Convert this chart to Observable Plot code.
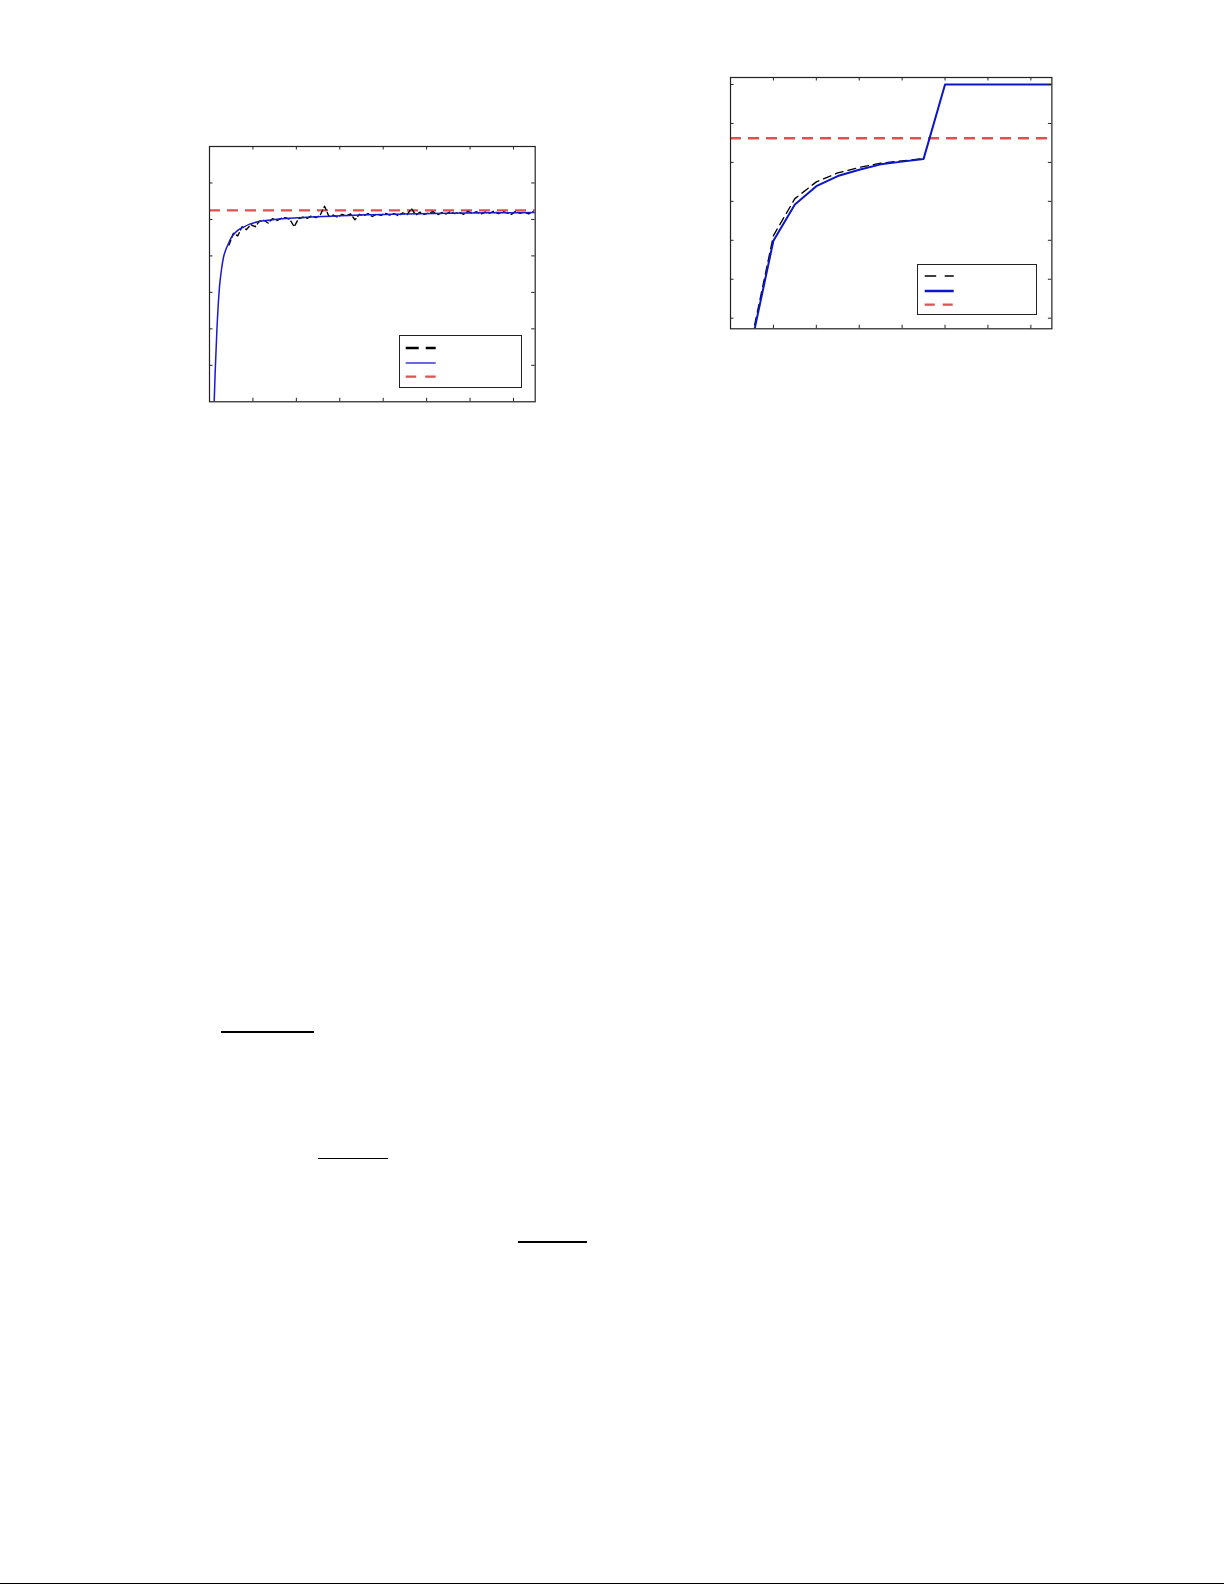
<!DOCTYPE html>
<html>
<head>
<meta charset="utf-8">
<script src="https://cdn.jsdelivr.net/npm/d3@7"></script>
<script src="https://cdn.jsdelivr.net/npm/@observablehq/plot@0.6"></script>
<style>
  html, body { margin: 0; padding: 0; background: #fff; }
  body { width: 1225px; height: 1585px; position: relative; overflow: hidden; font-family: "DejaVu Sans", sans-serif; }
  .abs { position: absolute; }
  .legend { position: absolute; border: 1px solid #222; background: #fff; box-sizing: border-box; }
  .rule { position: absolute; background: #000; }
</style>
</head>
<body>
<script>
// ---------- Left chart data ----------
const leftXTicks = [20, 40, 60, 80, 100, 120, 140];
const leftYTicks = [1, 2, 3, 4, 5, 6];
const leftBlueX = [2.0, 2.6, 3.4, 4.6, 5.5, 6.4, 7.5, 8.7, 9.8, 11, 13, 15.7, 18.5, 21.8, 26, 30, 37, 45, 60, 72, 90, 110, 130, 150];
const leftBlueY = [-0.3, 0.8, 1.96, 3.15, 3.62, 3.95, 4.17, 4.33, 4.48, 4.58, 4.7, 4.79, 4.87, 4.93, 4.97, 5.0, 5.03, 5.06, 5.1, 5.13, 5.15, 5.17, 5.18, 5.19];
const leftBlackX = [9, 11, 13, 15, 17, 19, 21, 23, 25, 27, 29, 31, 33, 35, 37, 39, 41, 43, 45, 47, 49, 51, 53, 55, 57, 59,
  61, 63, 65, 67, 69, 71, 73, 75, 77, 79, 81, 83, 85, 87, 89, 91, 93, 95, 97, 99, 101, 103, 105, 107, 109,
  111, 113, 115, 117, 119, 121, 123, 125, 127, 129, 131, 133, 135, 137, 139, 141, 143, 145, 147, 149];
const leftBlackY = [4.30, 4.62, 4.55, 4.80, 4.72, 4.86, 4.80, 4.95, 4.98, 4.90, 5.02, 4.97, 5.03, 5.05, 5.00, 4.80, 5.02, 5.06, 5.03, 5.10, 5.05, 5.12, 5.36, 5.08, 5.12, 5.06,
  5.14, 5.10, 5.15, 4.99, 5.14, 5.10, 5.16, 5.08, 5.15, 5.11, 5.17, 5.12, 5.16, 5.10, 5.18, 5.13, 5.30, 5.12, 5.20, 5.14, 5.18, 5.21, 5.13, 5.19, 5.15,
  5.21, 5.16, 5.20, 5.14, 5.22, 5.17, 5.21, 5.15, 5.20, 5.17, 5.23, 5.16, 5.21, 5.18, 5.14, 5.22, 5.17, 5.20, 5.15, 5.21];
const leftRefY = 5.25;

// ---------- Right chart data ----------
const rightXTicks = [2, 4, 6, 8, 10, 12, 14];
const rightYTicks = [0, 1, 2, 3, 4, 5, 6];
const rightBlueX = [1, 2, 3, 4, 5, 6, 7, 8, 9, 10, 11, 12, 13, 14, 15];
const rightBlueY = [-0.6, 1.99, 2.92, 3.39, 3.65, 3.81, 3.95, 4.02, 4.09, 6.0, 6.0, 6.0, 6.0, 6.0, 6.0];
const rightBlackX = [1, 2, 3, 4, 5, 6, 7, 8, 9];
const rightBlackY = [-0.5, 2.12, 3.07, 3.5, 3.73, 3.87, 3.98, 4.04, 4.1];
const rightRefY = 4.62;

// ---------- Styles ----------
const BLUE_L = "#1a1ad0";
const BLUE_R = "#0a16c8";
const RED = "#dc5252";
const M = 10; // svg margin around frame

function zip(xs, ys) { return xs.map((x, i) => ({x, y: ys[i]})); }

function chart({left, top, fw, fh, xDomain, yDomain, xTicks, yTicks, blue, black, refY, blueColor, blueW, blackW, blackDash, blueCurve}) {
  const tl = 3.5;
  const p = Plot.plot({
    width: fw + 2 * M,
    height: fh + 2 * M,
    marginLeft: M, marginRight: M, marginTop: M, marginBottom: M,
    x: {domain: xDomain, axis: null},
    y: {domain: yDomain, axis: null},
    style: {background: "transparent", overflow: "visible"},
    marks: [
      Plot.ruleY([refY], {stroke: RED, strokeWidth: 2.3, strokeDasharray: "11,7"}),
      Plot.line(black, {x: "x", y: "y", stroke: "#000", strokeWidth: blackW, strokeDasharray: blackDash, clip: true}),
      Plot.line(blue, {x: "x", y: "y", stroke: blueColor, strokeWidth: blueW, curve: blueCurve, clip: true}),
      // inward ticks (bottom, top, left, right)
      Plot.ruleX(xTicks, {stroke: "#222", strokeWidth: 1, insetTop: fh - tl}),
      Plot.ruleX(xTicks, {stroke: "#222", strokeWidth: 1, insetBottom: fh - tl}),
      Plot.ruleY(yTicks, {stroke: "#222", strokeWidth: 1, insetRight: fw - tl}),
      Plot.ruleY(yTicks, {stroke: "#222", strokeWidth: 1, insetLeft: fw - tl}),
      Plot.frame({stroke: "#222", strokeWidth: 1.2})
    ]
  });
  p.classList.add("abs");
  p.style.left = (left - M) + "px";
  p.style.top = (top - M) + "px";
  document.body.appendChild(p);
}

function legend({left, top, w, h, entries, segX0, segX1}) {
  const box = document.createElement("div");
  box.className = "legend";
  Object.assign(box.style, {left: left + "px", top: top + "px", width: w + "px", height: h + "px"});
  const svg = d3.create("svg").attr("width", w).attr("height", h)
    .style("position", "absolute").style("left", "-1px").style("top", "-1px");
  for (const e of entries) {
    svg.append("line")
      .attr("x1", segX0 - left).attr("x2", segX1 - left)
      .attr("y1", e.y - top).attr("y2", e.y - top)
      .attr("stroke", e.color).attr("stroke-width", e.w)
      .attr("stroke-dasharray", e.dash || null);
  }
  box.appendChild(svg.node());
  document.body.appendChild(box);
}

// Left chart: frame x 209.3–535, y 146–401.3
chart({
  left: 209.3, top: 146, fw: 325.7, fh: 255.3,
  xDomain: [0, 150], yDomain: [0, 7],
  xTicks: leftXTicks, yTicks: leftYTicks,
  blue: zip(leftBlueX, leftBlueY), black: zip(leftBlackX, leftBlackY),
  refY: leftRefY, blueColor: BLUE_L, blueW: 1.5, blackW: 1.4, blackDash: "5,3", blueCurve: "monotone-x"
});
legend({
  left: 399.3, top: 335.3, w: 122.4, h: 52.4, segX0: 406, segX1: 436,
  entries: [
    {y: 348.3, color: "#000", w: 2.5, dash: "13,7"},
    {y: 363.3, color: BLUE_L, w: 1.3},
    {y: 377, color: RED, w: 2.3, dash: "10.5,9"}
  ]
});

// Right chart: frame x 730.3–1051.7, y 77–328.3
chart({
  left: 730.3, top: 77, fw: 321.4, fh: 251.3,
  xDomain: [0, 14.98], yDomain: [-0.272, 6.18],
  xTicks: rightXTicks, yTicks: rightYTicks,
  blue: zip(rightBlueX, rightBlueY), black: zip(rightBlackX, rightBlackY),
  refY: rightRefY, blueColor: BLUE_R, blueW: 2, blackW: 1.3, blackDash: "8,5", blueCurve: "linear"
});
legend({
  left: 917.3, top: 264.3, w: 120, h: 50.7, segX0: 925, segX1: 954,
  entries: [
    {y: 276.3, color: "#000", w: 1.3, dash: "11.5,8.5"},
    {y: 291.3, color: BLUE_R, w: 2.5},
    {y: 305, color: RED, w: 2.3, dash: "10,8"}
  ]
});

// Page rules (underlines of stripped text, footer rule)
const pageRules = [
  {x0: 221, x1: 314, y: 1031.7, t: 2},
  {x0: 318.3, x1: 387.7, y: 1158.3, t: 1.3},
  {x0: 518.3, x1: 586.7, y: 1241.7, t: 2},
  {x0: 0, x1: 1224, y: 1583.3, t: 1.4}
];
for (const r of pageRules) {
  const d = document.createElement("div");
  d.className = "rule";
  Object.assign(d.style, {left: r.x0 + "px", top: (r.y - r.t / 2) + "px", width: (r.x1 - r.x0) + "px", height: r.t + "px"});
  document.body.appendChild(d);
}
</script>
</body>
</html>
